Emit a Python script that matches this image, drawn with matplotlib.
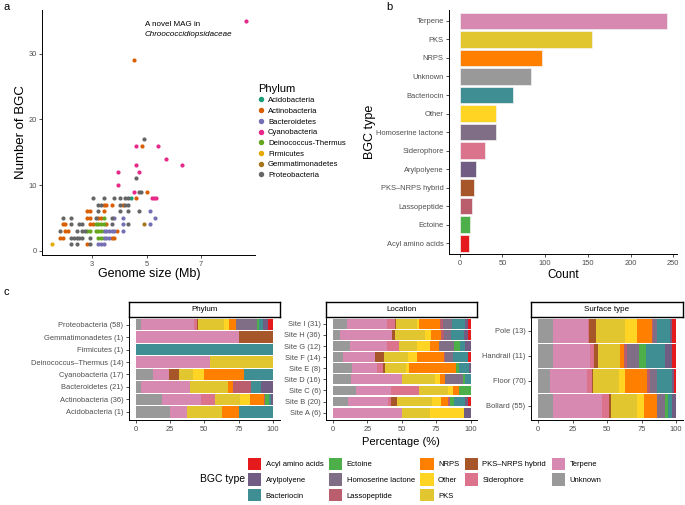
import matplotlib
matplotlib.use("Agg")
import matplotlib.pyplot as plt
from matplotlib.patches import Patch
from matplotlib.lines import Line2D
import numpy as np

plt.rcParams['font.family'] = ['Liberation Sans', 'DejaVu Sans']

W, H = 685, 505

# ---------- a: genome size vs number of BGC ----------
phyla = ["Acidobacteria", "Actinobacteria", "Bacteroidetes", "Cyanobacteria",
         "Deinococcus-Thermus", "Firmicutes", "Gemmatimonadetes", "Proteobacteria"]
phylum_colors = ["#1B9E77", "#D95F02", "#7570B3", "#E7298A",
                 "#66A61E", "#E6AB02", "#A6761D", "#666666"]

acido_size = [4.42]
acido_bgc = [8]
actino_size = [2.81, 1.81, 1.91, 3.72, 3.81, 2.01, 2.11, 3.91, 1.91, 2.01, 2.91, 3.01, 3.52,
               2.81, 2.91, 3.22, 3.32, 2.81, 2.91, 3.42, 3.42, 3.52, 3.72, 4.12, 4.62, 5.01,
               4.83, 4.52]
actino_bgc = [1, 2, 2, 2, 2, 3, 3, 3, 4, 4, 4, 4, 4,
              5, 5, 5, 5, 6, 6, 6, 7, 7, 7, 7, 8, 9,
              16, 29]
bactero_size = [3.22, 3.32, 3.42, 3.42, 3.52, 3.62, 3.42, 3.52, 3.62, 3.72, 3.81, 4.12,
                4.12, 5.12, 3.81, 4.12, 5.32, 5.12]
bactero_bgc = [1, 1, 1, 2, 2, 2, 3, 3, 3, 3, 3, 3,
               4, 4, 5, 5, 5, 6]
cyano_size = [5.21, 5.28, 5.35, 4.52, 3.93, 3.93, 4.72, 4.62, 6.32, 5.73, 4.62, 5.43, 8.64]
cyano_bgc = [8, 8, 8, 9, 10, 12, 12, 13, 13, 14, 16, 16, 35]
deino_size = [3.22, 3.32, 2.81, 2.91, 3.12, 3.22, 3.32, 3.12, 3.22, 3.32, 3.42, 3.42]
deino_bgc = [2, 2, 3, 3, 3, 3, 3, 4, 4, 4, 4, 5]
firmi_size = [1.52]
firmi_bgc = [1]
gemma_size = [4.91]
gemma_bgc = [4]
proteo_size = [2.22, 2.42, 2.91, 2.22, 2.32, 2.42, 2.52, 2.62, 2.91, 1.81, 2.42, 2.62, 2.72,
               2.22, 2.52, 2.62, 3.72, 4.32, 1.91, 2.22, 3.12, 3.72, 3.22, 4.02, 4.32, 4.72,
               3.22, 3.32, 4.02, 4.22, 4.32, 3.02, 3.42, 3.81, 4.02, 4.22, 4.32, 4.72, 4.81,
               4.62, 4.91]
proteo_bgc = [1, 1, 1, 2, 2, 2, 2, 2, 2, 3, 3, 3, 3,
              4, 4, 4, 4, 4, 5, 5, 5, 5, 6, 6, 6, 6,
              7, 7, 7, 7, 7, 8, 8, 8, 8, 8, 8, 9, 9,
              11, 17]

scatter_sizes = [acido_size, actino_size, bactero_size, cyano_size,
                 deino_size, firmi_size, gemma_size, proteo_size]
scatter_bgcs = [acido_bgc, actino_bgc, bactero_bgc, cyano_bgc,
                deino_bgc, firmi_bgc, gemma_bgc, proteo_bgc]

# ---------- b: BGC counts ----------
bgc_types_b = ["Terpene", "PKS", "NRPS", "Unknown", "Bacteriocin", "Other", "Homoserine lactone",
               "Siderophore", "Arylpolyene", "PKS\u2013NRPS hybrid", "Lassopeptide", "Ectoine",
               "Acyl amino acids"]
bgc_counts = [243, 155, 96, 84, 62, 43, 42, 30, 19, 17, 14, 12, 11]

# legend order (alphabetical) and colours
bgc_types = ["Acyl amino acids", "Arylpolyene", "Bacteriocin", "Ectoine", "Homoserine lactone",
             "Lassopeptide", "NRPS", "Other", "PKS", "PKS\u2013NRPS hybrid", "Siderophore",
             "Terpene", "Unknown"]
bgc_palette = ["#E41A1C", "#715D84", "#3E8E93", "#4DAF4A", "#7F6E85", "#BA5E6D", "#FF7F00",
               "#FFD422", "#E1C62F", "#A65628", "#DC738D", "#D889B2", "#999999"]
bgc_colors = dict(zip(bgc_types, bgc_palette))
stack_order = bgc_types[::-1]  # Unknown ... Acyl amino acids, left to right

# ---------- c: composition in % (columns follow stack_order) ----------
phylum_rows = ["Proteobacteria (58)", "Gemmatimonadetes (1)", "Firmicutes (1)",
               "Deinococcus\u2013Thermus (14)", "Cyanobacteria (17)", "Bacteroidetes (21)",
               "Actinobacteria (36)", "Acidobacteria (1)"]
phylum_shares = [
    [3.6, 38.9, 2.2, 0.7, 18.9, 3.7, 4.8, 0.5, 15.3, 1.0, 3.4, 3.4, 3.6],
    [0, 75, 0, 25, 0, 0, 0, 0, 0, 0, 0, 0, 0],
    [0, 0, 0, 0, 0, 0, 0, 0, 0, 0, 100, 0, 0],
    [0, 54, 0, 0, 46, 0, 0, 0, 0, 0, 0, 0, 0],
    [12.6, 11.9, 0, 6.8, 10.4, 7.8, 29.1, 0.5, 0, 0, 20.9, 0, 0],
    [3.9, 35.9, 0, 0, 27.2, 0, 4.1, 12.9, 0, 0, 7.3, 8.7, 0],
    [19.4, 27.9, 10.5, 0, 18.2, 7.2, 10.2, 0.6, 0, 3.0, 1.2, 1.8, 0],
    [25, 12.5, 0, 0, 25, 0, 12.5, 0, 0, 0, 25, 0, 0],
]
site_rows = ["Site I (31)", "Site H (36)", "Site G (12)", "Site F (14)", "Site E (8)",
             "Site D (16)", "Site C (6)", "Site B (20)", "Site A (6)"]
site_shares = [
    [10.2, 29.4, 5.5, 0.5, 15.6, 1.4, 15.3, 2.4, 6.4, 0, 9.4, 1.9, 2.0],
    [5.3, 37.7, 0, 1.9, 22.1, 4.4, 7.2, 2.2, 5.1, 0, 9.2, 2.9, 2.0],
    [12.4, 26.9, 9.0, 0, 13.1, 9.0, 6.5, 0, 11.0, 4.6, 3.4, 4.1, 0],
    [7.5, 23.1, 0, 6.5, 17.3, 6.5, 19.9, 1.0, 5.3, 0, 10.9, 0, 2.0],
    [13.8, 18.5, 4.1, 1.5, 15.3, 2.4, 33.7, 0, 0, 2.0, 7.7, 1.0, 0],
    [13.1, 36.9, 0, 0, 24.0, 3.9, 3.7, 0, 13.1, 1.2, 4.1, 0, 0],
    [16.5, 25.5, 20.6, 0, 21.1, 3.7, 4.3, 0, 0, 8.3, 0, 0, 0],
    [11.2, 29.1, 1.7, 4.8, 25.3, 6.5, 4.9, 1.7, 0, 2.7, 8.2, 1.9, 2.0],
    [0, 50, 0, 0, 20.4, 25.0, 0, 0, 0, 0, 0, 4.6, 0],
]
surface_rows = ["Pole (13)", "Handrail (11)", "Floor (70)", "Bollard (55)"]
surface_shares = [
    [11.1, 25.4, 0.5, 5.0, 21.0, 8.5, 10.9, 1.2, 2.9, 0, 9.2, 1.6, 2.7],
    [10.6, 27.1, 2.9, 2.6, 16.2, 0, 2.9, 2.4, 8.5, 5.1, 13.5, 5.5, 2.7],
    [8.7, 26.8, 3.4, 1.2, 18.6, 4.3, 15.7, 2.5, 5.3, 0, 10.8, 1.3, 1.4],
    [10.6, 36.0, 5.1, 1.0, 19.0, 4.9, 9.4, 0, 6.0, 2.0, 3.1, 2.9, 0],
]

TICK_COL = "#4D4D4D"
TICK_SIZE = 5.4


def px_box(l, t, r, b):
    # pixel box (top-left origin) -> figure fraction
    return [l / W, 1 - b / H, (r - l) / W, (b - t) / H]


def classic(ax):
    for s in ["top", "right"]:
        ax.spines[s].set_visible(False)
    for s in ["left", "bottom"]:
        ax.spines[s].set_linewidth(0.7)
    ax.tick_params(length=2.5, width=0.6, labelsize=TICK_SIZE, colors="#333333",
                   labelcolor=TICK_COL, pad=1.5)


fig = plt.figure(figsize=(W / 100, H / 100), dpi=100)

# ---- panel a
ax_a = fig.add_axes(px_box(42.3, 9.6, 255.3, 255.3))
classic(ax_a)
for sz, bg, col in zip(scatter_sizes, scatter_bgcs, phylum_colors):
    ax_a.scatter(sz, bg, s=9, color=col, linewidths=0, zorder=3)
ax_a.set_xlim(1.16, 9.0)
ax_a.set_ylim(-0.7, 36.7)
ax_a.set_xticks([3, 5, 7])
ax_a.set_yticks([0, 10, 20, 30])
ax_a.set_xlabel("Genome size (Mb)", fontsize=9)
ax_a.set_ylabel("Number of BGC", fontsize=9.5)
ax_a.xaxis.set_label_coords(0.5, (255.3 - 268) / 245.7)
ax_a.yaxis.set_label_coords((27 - 42.3) / 213, 0.5)
ax_a.text(4.94, 34.4, "A novel MAG in", fontsize=5.8, ha="left", va="center")
ax_a.text(4.94, 32.85, "Chroococcidiopsidaceae", fontsize=5.8, style="italic",
          ha="left", va="center")

phylum_handles = [Line2D([], [], marker="o", ls="", color=c, markersize=2.9)
                  for c in phylum_colors]
fig.legend(phylum_handles, phyla, loc="upper left", bbox_to_anchor=(258 / W, 1 - 83.5 / H),
           frameon=False, fontsize=5.6, title="Phylum", title_fontsize=8, alignment="left",
           handlelength=0.8, handletextpad=0.5, labelspacing=0.42, borderpad=0,
           borderaxespad=0)

# ---- panel b
ax_b = fig.add_axes(px_box(449.3, 9.8, 676.8, 254.3))
classic(ax_b)
yb = np.arange(len(bgc_types_b))[::-1]
ax_b.barh(yb, bgc_counts, height=0.9, color=[bgc_colors[t] for t in bgc_types_b],
          edgecolor="#F2F2F2", linewidth=0.5)
ax_b.set_yticks(yb, bgc_types_b)
ax_b.set_ylim(-0.6, len(bgc_types_b) - 0.4)
ax_b.set_xlim(-12.1, 254.1)
ax_b.set_xticks([0, 50, 100, 150, 200, 250])
ax_b.set_xlabel("Count", fontsize=8.5)
ax_b.set_ylabel("BGC type", fontsize=9)
ax_b.xaxis.set_label_coords(0.5, (254.3 - 269) / 244.5)
ax_b.yaxis.set_label_coords((376 - 449.3) / 227.5, 0.5)


# ---- panel c
def stacked(box, labels, shares, title):
    l, r = box
    ax = fig.add_axes(px_box(l, 316.5, r, 420))
    classic(ax)
    n = len(labels)
    y = np.arange(n)
    vals = np.array(shares, dtype=float)
    vals = vals / vals.sum(axis=1, keepdims=True) * 100
    left = np.zeros(n)
    h = 1 - 0.013 * n
    for j, name in enumerate(stack_order):
        ax.barh(y, vals[:, j], left=left, height=h, color=bgc_colors[name], linewidth=0)
        left += vals[:, j]
    ax.set_yticks(y, labels)
    pad = 0.018 * n
    ax.set_ylim(n - 0.5 + pad, -0.5 - pad)
    ax.set_xlim(-5, 105)
    ax.set_xticks([0, 25, 50, 75, 100])
    # strip header
    st = fig.add_axes(px_box(l, 302, r, 316.5))
    st.set_xticks([])
    st.set_yticks([])
    for s in st.spines.values():
        s.set_linewidth(1.0)
    st.text(0.5, 0.5, title, fontsize=5.8, ha="center", va="center", transform=st.transAxes)
    return ax


stacked((128.8, 279.9), phylum_rows, phylum_shares, "Phylum")
stacked((326.1, 477.4), site_rows, site_shares, "Location")
stacked((531.1, 682.9), surface_rows, surface_shares, "Surface type")

fig.text(401 / W, 1 - 441.7 / H, "Percentage (%)", fontsize=8, ha="center", va="center")

# shared BGC legend
bgc_handles = [Patch(facecolor=bgc_colors[t], edgecolor="none") for t in bgc_types]
fig.legend(bgc_handles, bgc_types, loc="upper left", bbox_to_anchor=(248 / W, 1 - 457.5 / H),
           ncol=5, frameon=False, fontsize=5.5, handlelength=1.75, handleheight=2.1,
           handletextpad=0.55, labelspacing=0.45, columnspacing=0.75, borderpad=0,
           borderaxespad=0)
fig.text(199.5 / W, 1 - 479.3 / H, "BGC type", fontsize=7.5, ha="left", va="center")

# panel letters
fig.text(3 / W, 1 - 7 / H, "a", fontsize=8, ha="left", va="center")
fig.text(386 / W, 1 - 7 / H, "b", fontsize=8, ha="left", va="center")
fig.text(3 / W, 1 - 292 / H, "c", fontsize=8, ha="left", va="center")

fig.savefig("out.png", dpi=100)
